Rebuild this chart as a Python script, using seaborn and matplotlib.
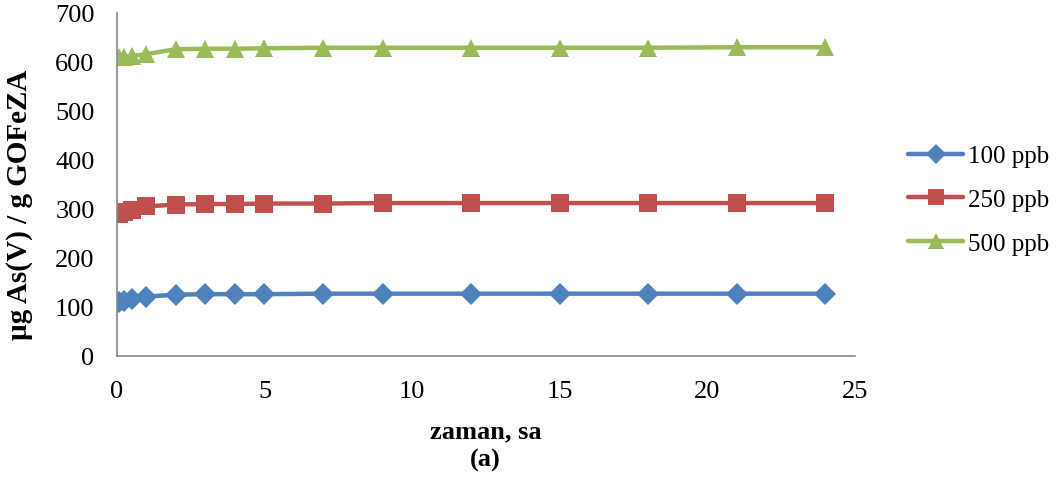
import pandas as pd
import seaborn as sns
import numpy as np
import matplotlib.pyplot as plt

# zaman (sa) and adsorbed amounts
zaman = [0.083, 0.25, 0.5, 1, 2, 3, 4, 5, 7, 9, 12, 15, 18, 21, 24]
ppb100 = [110, 113, 116, 121, 125, 126, 126, 126, 127, 127, 127, 127, 127, 127, 127]
ppb250 = [289, 293, 298, 305, 309, 310, 310, 311, 311, 312, 312, 312, 312, 312, 312]
ppb500 = [610, 611, 612, 616, 626, 627, 627, 628, 629, 629, 629, 629, 629, 630, 630]
seriler = ["100 ppb", "250 ppb", "500 ppb"]
renkler = ["#4F81BD", "#C0504D", "#9BBB59"]

df = pd.DataFrame({
    "zaman": zaman * 3,
    "deger": ppb100 + ppb250 + ppb500,
    "seri": np.repeat(seriler, len(zaman)),
})

sns.set_style("white")
plt.rcParams["font.family"] = ["Liberation Serif", "DejaVu Serif"]
plt.rcParams["text.color"] = "black"

fig = plt.figure(figsize=(10.62, 4.81), dpi=100)
ax = fig.add_axes([0.110, 0.258, 0.695, 0.713])

sns.lineplot(data=df, x="zaman", y="deger", hue="seri", style="seri",
             palette=dict(zip(seriler, renkler)),
             markers={"100 ppb": "D", "250 ppb": "s", "500 ppb": "^"},
             dashes=False, linewidth=3.2, markersize=13, markeredgewidth=0,
             ax=ax)
# diamonds drawn a bit smaller, like in the original
for ln in ax.lines:
    if ln.get_marker() == "D":
        ln.set_markersize(11)

ax.set_xlim(0, 25)
ax.set_ylim(0, 700)
ax.set_xticks(range(0, 26, 5))
ax.set_yticks(range(0, 701, 100))
ax.tick_params(axis="both", labelsize=19, labelcolor="black", length=0)
ax.tick_params(axis="x", pad=17)
ax.tick_params(axis="y", pad=16)
for s in ["top", "right"]:
    ax.spines[s].set_visible(False)
for s in ["left", "bottom"]:
    ax.spines[s].set_color("#888888")
    ax.spines[s].set_linewidth(1.2)

ax.set_xlabel("zaman, sa", fontsize=19, fontweight="bold", color="black")
ax.set_ylabel("µg As(V) / g GOFeZA", fontsize=21, fontweight="bold", color="black")
ax.xaxis.set_label_coords(0.5, -0.185)
ax.yaxis.set_label_coords(-0.114, 0.443)
fig.text(0.457, 0.031, "(a)", fontsize=19, fontweight="bold", ha="center")

leg = ax.legend(loc="center left", bbox_to_anchor=(1.042, 0.455), frameon=False,
                fontsize=18, handlelength=2.2, labelspacing=0.85, handletextpad=0.2)
for h in leg.legend_handles:
    h.set_markersize(12 if h.get_marker() != "D" else 10)

fig.savefig("out.png", dpi=100)
